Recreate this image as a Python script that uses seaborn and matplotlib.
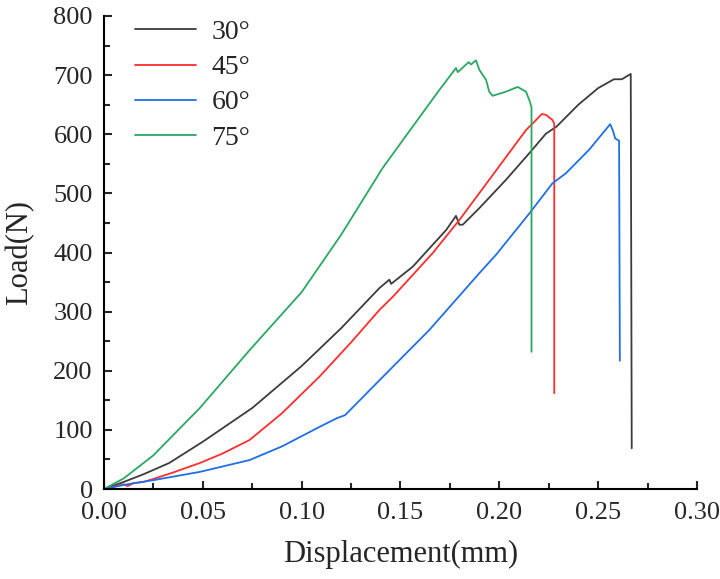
import pandas as pd
import matplotlib.pyplot as plt
import seaborn as sns
from matplotlib.ticker import MultipleLocator

# 30 deg
x30 = [0.0, 0.01, 0.02, 0.033, 0.05, 0.075, 0.1, 0.12, 0.1394, 0.1444, 0.1453, 0.1562, 0.1731,
       0.1781, 0.1798, 0.1815, 0.1899, 0.2034, 0.2152, 0.2236, 0.229, 0.24, 0.25, 0.258,
       0.262, 0.2665, 0.267]
y30 = [0, 12, 25, 44, 80, 137, 208, 272, 340, 354, 347, 376, 438,
       462, 447, 447, 475, 523, 568, 601, 613, 650, 678, 693,
       693, 702, 69]
# 45 deg
x45 = [0.0, 0.005, 0.01, 0.012, 0.015, 0.02, 0.025, 0.035, 0.0485, 0.06, 0.0737, 0.09, 0.109,
       0.125, 0.1394, 0.1461, 0.1663, 0.1798, 0.1949, 0.2135, 0.218, 0.2214, 0.2236, 0.2269,
       0.2278, 0.2278]
y45 = [0, 4, 8, 5, 10, 12, 17, 28, 44, 60, 83, 128, 190,
       248, 303, 325, 399, 455, 523, 607, 622, 634, 633, 624,
       618, 162]
# 60 deg
x60 = [0.0, 0.01, 0.025, 0.0485, 0.0737, 0.09, 0.109, 0.118, 0.122, 0.1394, 0.1646, 0.1899,
       0.1983, 0.2152, 0.2269, 0.2337, 0.2455, 0.2561, 0.2576, 0.2586, 0.2606, 0.261]
y60 = [0, 7, 15, 29, 49, 72, 105, 120, 125, 184, 269, 365,
       396, 466, 517, 534, 574, 617, 605, 593, 589, 217]
# 75 deg
x75 = [0.0, 0.01, 0.025, 0.0485, 0.0737, 0.1, 0.12, 0.141, 0.1562, 0.1697, 0.1781, 0.179,
       0.1845, 0.1857, 0.1882, 0.1899, 0.1933, 0.1949, 0.1966, 0.2034, 0.2093, 0.2135,
       0.2155, 0.2163, 0.2163]
y75 = [0, 18, 57, 137, 235, 333, 430, 543, 613, 675, 712, 705,
       722, 718, 725, 709, 692, 672, 665, 672, 680, 672,
       655, 645, 232]

labels = ['30°', '45°', '60°', '75°']
colors = ['#3c3c3c', '#ff2d2d', '#1f6fe6', '#2aa862']

frames = []
for lab, xs, ys in zip(labels, [x30, x45, x60, x75], [y30, y45, y60, y75]):
    frames.append(pd.DataFrame({'x': xs, 'y': ys, 'angle': lab}))
df = pd.concat(frames, ignore_index=True)

sns.set_style("ticks")
plt.rcParams['font.family'] = ['Liberation Serif', 'DejaVu Serif']

fig = plt.figure(figsize=(7.2, 5.79), dpi=100)
ax = fig.add_axes([0.1444, 0.1554, 0.8236, 0.817])
sns.lineplot(data=df, x='x', y='y', hue='angle', palette=colors, sort=False,
             estimator=None, linewidth=1.3, ax=ax)

ax.set_xlim(0, 0.30)
ax.set_ylim(0, 800)
ax.xaxis.set_major_locator(MultipleLocator(0.05))
ax.xaxis.set_minor_locator(MultipleLocator(0.025))
ax.yaxis.set_major_locator(MultipleLocator(100))
ax.yaxis.set_minor_locator(MultipleLocator(50))
ax.xaxis.set_major_formatter(lambda v, p: f'{v:.2f}')
ax.tick_params(which='major', direction='in', length=6, width=1.5, labelsize=19)
ax.tick_params(which='minor', direction='in', length=4, width=1.5)
ax.tick_params(axis='x', pad=9)
ax.tick_params(axis='y', pad=8)
for s in ['top', 'right']:
    ax.spines[s].set_visible(False)
for s in ['left', 'bottom']:
    ax.spines[s].set_linewidth(1.5)
    ax.spines[s].set_color('black')

ax.set_xlabel('Displacement(mm)', fontsize=22, labelpad=12)
ax.set_ylabel('Load(N)', fontsize=22, labelpad=14)

leg = ax.legend(loc='upper left', bbox_to_anchor=(0.01, 1.045), frameon=False,
                fontsize=20, handlelength=2.2, labelspacing=0.35, handletextpad=0.55)

fig.savefig('out.png', dpi=100)
